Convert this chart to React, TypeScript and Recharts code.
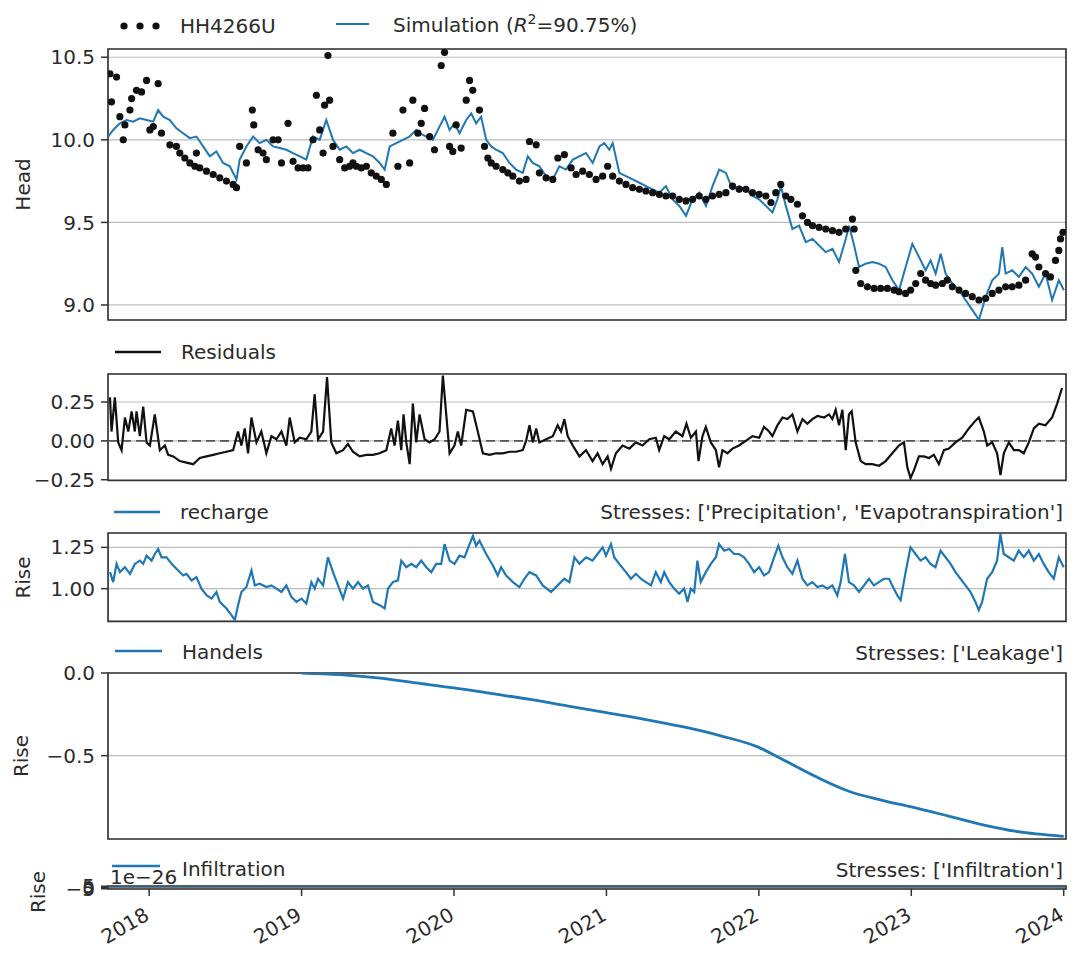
import React from "react";
import {
  ComposedChart,
  Line,
  Scatter,
  XAxis,
  YAxis,
  CartesianGrid,
  ReferenceArea,
  ReferenceLine,
} from "recharts";

const FONT = '"DejaVu Sans", sans-serif';
const BLUE = "#1f77b4";
const TEXT = "#2b2b2b";
const FRAME = "#333";

const X_DOMAIN: [number, number] = [2017.73, 2024.015];
const YEARS = [2018, 2019, 2020, 2021, 2022, 2023, 2024];

// observed head HH4266U [decimal year, head]
const observed = [
  [2017.743, 10.4], [2017.753, 10.23], [2017.786, 10.38], [2017.808, 10.14], [2017.83, 10.0],
  [2017.841, 10.09], [2017.874, 10.18], [2017.885, 10.25], [2017.917, 10.3], [2017.95, 10.29],
  [2017.983, 10.36], [2018.005, 10.06], [2018.027, 10.08], [2018.059, 10.34], [2018.081, 10.04],
  [2018.136, 9.97], [2018.179, 9.96], [2018.201, 9.92], [2018.234, 9.89], [2018.267, 9.86],
  [2018.3, 9.84], [2018.31, 9.92], [2018.332, 9.83], [2018.376, 9.81], [2018.42, 9.79],
  [2018.463, 9.77], [2018.507, 9.75], [2018.551, 9.73], [2018.573, 9.71], [2018.594, 9.96],
  [2018.638, 9.86], [2018.677, 10.18], [2018.686, 10.09], [2018.715, 9.94], [2018.747, 9.92],
  [2018.769, 9.88], [2018.813, 10.0], [2018.846, 10.0], [2018.868, 9.86], [2018.911, 10.1],
  [2018.944, 9.87], [2018.977, 9.83], [2019.01, 9.83], [2019.042, 9.83], [2019.075, 10.0],
  [2019.097, 10.27], [2019.119, 10.06], [2019.141, 9.92], [2019.151, 10.21], [2019.173, 10.51],
  [2019.184, 10.24], [2019.206, 9.96], [2019.25, 9.88], [2019.283, 9.83], [2019.315, 9.84],
  [2019.337, 9.86], [2019.359, 9.84], [2019.392, 9.83], [2019.425, 9.84], [2019.457, 9.8],
  [2019.49, 9.78], [2019.523, 9.76], [2019.556, 9.73], [2019.599, 10.04], [2019.632, 9.84],
  [2019.665, 10.18], [2019.709, 9.86], [2019.73, 10.24], [2019.763, 10.04], [2019.785, 10.1],
  [2019.807, 10.19], [2019.84, 10.02], [2019.872, 9.94], [2019.916, 10.45], [2019.938, 10.53],
  [2019.971, 9.96], [2019.992, 9.93], [2020.014, 10.09], [2020.047, 9.95], [2020.08, 10.24],
  [2020.102, 10.36], [2020.123, 10.3], [2020.167, 10.18], [2020.2, 9.96], [2020.222, 9.89],
  [2020.244, 9.86], [2020.276, 9.84], [2020.32, 9.82], [2020.353, 9.8], [2020.386, 9.78],
  [2020.429, 9.75], [2020.473, 9.76], [2020.495, 9.99], [2020.539, 9.97], [2020.56, 9.8],
  [2020.604, 9.77], [2020.648, 9.76], [2020.681, 9.89], [2020.724, 9.91], [2020.768, 9.83],
  [2020.801, 9.79], [2020.844, 9.81], [2020.888, 9.79], [2020.932, 9.76], [2020.975, 9.78],
  [2021.008, 9.84], [2021.041, 9.78], [2021.085, 9.75], [2021.128, 9.73], [2021.172, 9.71],
  [2021.216, 9.7], [2021.259, 9.69], [2021.303, 9.68], [2021.347, 9.67], [2021.39, 9.66],
  [2021.434, 9.66], [2021.478, 9.64], [2021.522, 9.63], [2021.565, 9.64], [2021.609, 9.66],
  [2021.653, 9.64], [2021.696, 9.66], [2021.74, 9.67], [2021.784, 9.68], [2021.827, 9.72],
  [2021.871, 9.7], [2021.915, 9.7], [2021.958, 9.68], [2022.002, 9.67], [2022.046, 9.66],
  [2022.079, 9.62], [2022.111, 9.68], [2022.144, 9.73], [2022.177, 9.66], [2022.21, 9.64],
  [2022.253, 9.61], [2022.286, 9.54], [2022.319, 9.5], [2022.352, 9.48], [2022.395, 9.47],
  [2022.439, 9.46], [2022.483, 9.45], [2022.526, 9.44], [2022.57, 9.46], [2022.614, 9.52],
  [2022.625, 9.46], [2022.636, 9.21], [2022.668, 9.13], [2022.712, 9.11], [2022.756, 9.1],
  [2022.799, 9.1], [2022.843, 9.1], [2022.887, 9.09], [2022.92, 9.08], [2022.963, 9.07],
  [2022.996, 9.09], [2023.029, 9.13], [2023.062, 9.19], [2023.094, 9.15], [2023.127, 9.13],
  [2023.16, 9.12], [2023.204, 9.13], [2023.236, 9.15], [2023.269, 9.11], [2023.313, 9.09],
  [2023.356, 9.07], [2023.4, 9.05], [2023.444, 9.03], [2023.488, 9.04], [2023.531, 9.07],
  [2023.575, 9.09], [2023.619, 9.11], [2023.662, 9.11], [2023.706, 9.12], [2023.75, 9.15],
  [2023.793, 9.31], [2023.815, 9.29], [2023.837, 9.23], [2023.881, 9.19], [2023.913, 9.17],
  [2023.946, 9.27], [2023.968, 9.33], [2023.979, 9.4], [2023.995, 9.44],
];

// simulated head
const simulation = [
  [2017.732, 10.02], [2017.764, 10.06], [2017.808, 10.1], [2017.852, 10.12], [2017.895, 10.11],
  [2017.939, 10.13], [2017.983, 10.12], [2018.027, 10.11], [2018.059, 10.18], [2018.092, 10.14],
  [2018.136, 10.12], [2018.179, 10.07], [2018.223, 10.04], [2018.267, 10.01], [2018.31, 10.02],
  [2018.354, 9.96], [2018.398, 9.9], [2018.441, 9.93], [2018.485, 9.86], [2018.529, 9.84],
  [2018.573, 9.76], [2018.594, 9.88], [2018.638, 9.96], [2018.682, 10.02], [2018.725, 9.98],
  [2018.769, 10.0], [2018.813, 9.96], [2018.857, 9.95], [2018.9, 9.94], [2018.944, 9.92],
  [2018.988, 9.9], [2019.031, 9.88], [2019.075, 10.02], [2019.119, 10.0], [2019.162, 10.12],
  [2019.206, 10.0], [2019.25, 9.94], [2019.294, 9.96], [2019.337, 9.92], [2019.381, 9.94],
  [2019.425, 9.92], [2019.468, 9.9], [2019.512, 9.86], [2019.545, 9.82], [2019.578, 9.96],
  [2019.621, 9.98], [2019.665, 10.0], [2019.709, 10.02], [2019.752, 10.06], [2019.774, 10.04],
  [2019.818, 10.02], [2019.861, 10.0], [2019.905, 10.08], [2019.938, 10.14], [2019.971, 10.06],
  [2020.003, 10.1], [2020.036, 10.04], [2020.08, 10.12], [2020.113, 10.16], [2020.145, 10.1],
  [2020.178, 10.14], [2020.211, 10.0], [2020.244, 9.96], [2020.276, 9.94], [2020.32, 9.92],
  [2020.364, 9.86], [2020.407, 9.82], [2020.451, 9.8], [2020.484, 9.9], [2020.517, 9.86],
  [2020.56, 9.84], [2020.604, 9.78], [2020.648, 9.76], [2020.691, 9.84], [2020.735, 9.82],
  [2020.779, 9.88], [2020.822, 9.9], [2020.866, 9.92], [2020.91, 9.86], [2020.954, 9.96],
  [2020.986, 9.98], [2021.019, 9.94], [2021.041, 9.98], [2021.085, 9.8], [2021.128, 9.78],
  [2021.172, 9.76], [2021.216, 9.74], [2021.259, 9.72], [2021.303, 9.7], [2021.347, 9.68],
  [2021.39, 9.72], [2021.434, 9.64], [2021.478, 9.6], [2021.522, 9.54], [2021.565, 9.64],
  [2021.609, 9.68], [2021.653, 9.6], [2021.696, 9.72], [2021.74, 9.82], [2021.784, 9.8],
  [2021.827, 9.7], [2021.871, 9.72], [2021.915, 9.7], [2021.958, 9.66], [2022.002, 9.64],
  [2022.046, 9.6], [2022.089, 9.56], [2022.122, 9.64], [2022.144, 9.72], [2022.177, 9.6],
  [2022.22, 9.46], [2022.264, 9.48], [2022.308, 9.38], [2022.352, 9.4], [2022.395, 9.36],
  [2022.439, 9.32], [2022.483, 9.34], [2022.526, 9.26], [2022.57, 9.4], [2022.592, 9.48],
  [2022.625, 9.36], [2022.657, 9.23], [2022.701, 9.25], [2022.745, 9.26], [2022.788, 9.25],
  [2022.832, 9.23], [2022.876, 9.15], [2022.92, 9.09], [2022.963, 9.23], [2023.007, 9.37],
  [2023.051, 9.29], [2023.094, 9.21], [2023.127, 9.27], [2023.16, 9.19], [2023.193, 9.31],
  [2023.225, 9.19], [2023.269, 9.13], [2023.313, 9.09], [2023.356, 9.03], [2023.4, 8.97],
  [2023.444, 8.91], [2023.488, 9.05], [2023.531, 9.15], [2023.575, 9.19], [2023.597, 9.35],
  [2023.619, 9.19], [2023.662, 9.21], [2023.706, 9.17], [2023.75, 9.23], [2023.793, 9.19],
  [2023.837, 9.11], [2023.881, 9.19], [2023.924, 9.03], [2023.968, 9.15], [2024.001, 9.09],
];

const residuals = [
  [2017.743, 0.28], [2017.753, 0.06], [2017.775, 0.28], [2017.797, -0.01], [2017.819, -0.06],
  [2017.841, 0.15], [2017.863, 0.06], [2017.885, 0.19], [2017.906, 0.06], [2017.917, 0.19],
  [2017.939, 0.03], [2017.961, 0.22], [2017.983, -0.01], [2018.005, -0.03], [2018.037, 0.17],
  [2018.07, -0.06], [2018.103, -0.03], [2018.125, -0.09], [2018.158, -0.1], [2018.201, -0.13],
  [2018.245, -0.14], [2018.289, -0.15], [2018.332, -0.11], [2018.376, -0.1], [2018.42, -0.09],
  [2018.463, -0.08], [2018.507, -0.07], [2018.551, -0.06], [2018.583, 0.06], [2018.605, -0.03],
  [2018.627, 0.08], [2018.649, -0.08], [2018.671, 0.15], [2018.704, -0.01], [2018.736, 0.06],
  [2018.769, -0.08], [2018.802, 0.03], [2018.835, 0.01], [2018.868, 0.06], [2018.9, -0.03],
  [2018.922, 0.15], [2018.955, -0.01], [2018.988, 0.02], [2019.031, 0.01], [2019.064, 0.06],
  [2019.086, 0.3], [2019.108, 0.01], [2019.141, 0.06], [2019.167, 0.41], [2019.195, -0.01],
  [2019.228, -0.08], [2019.272, -0.06], [2019.304, -0.02], [2019.337, -0.07], [2019.381, -0.1],
  [2019.425, -0.09], [2019.468, -0.09], [2019.512, -0.08], [2019.556, -0.06], [2019.588, 0.08],
  [2019.61, -0.03], [2019.632, 0.13], [2019.654, -0.06], [2019.669, 0.17], [2019.687, -0.01],
  [2019.709, -0.15], [2019.73, 0.24], [2019.752, -0.01], [2019.774, 0.17], [2019.807, 0.01],
  [2019.84, -0.01], [2019.873, 0.01], [2019.905, 0.06], [2019.927, 0.42], [2019.949, 0.17],
  [2019.971, -0.08], [2020.003, -0.03], [2020.025, 0.06], [2020.047, -0.03], [2020.08, 0.2],
  [2020.124, 0.19], [2020.156, 0.06], [2020.189, -0.08], [2020.233, -0.09], [2020.276, -0.08],
  [2020.32, -0.08], [2020.364, -0.07], [2020.408, -0.07], [2020.451, -0.06], [2020.473, 0.0],
  [2020.495, 0.1], [2020.517, -0.01], [2020.539, 0.08], [2020.56, -0.01], [2020.604, 0.01],
  [2020.648, 0.03], [2020.68, 0.1], [2020.702, 0.06], [2020.724, 0.14], [2020.746, 0.03],
  [2020.779, -0.03], [2020.823, -0.1], [2020.866, -0.06], [2020.909, -0.13], [2020.942, -0.08],
  [2020.975, -0.15], [2021.008, -0.1], [2021.03, -0.18], [2021.062, -0.08], [2021.106, -0.03],
  [2021.15, -0.05], [2021.193, -0.01], [2021.237, -0.03], [2021.281, 0.01], [2021.324, 0.02],
  [2021.346, -0.06], [2021.379, 0.03], [2021.412, 0.01], [2021.455, 0.06], [2021.499, 0.03],
  [2021.525, 0.11], [2021.554, 0.02], [2021.587, 0.06], [2021.604, -0.13], [2021.63, 0.03],
  [2021.652, 0.09], [2021.685, -0.01], [2021.718, -0.06], [2021.739, -0.17], [2021.761, -0.06],
  [2021.794, -0.08], [2021.827, -0.05], [2021.87, -0.03], [2021.914, 0.0], [2021.958, 0.03],
  [2022.002, 0.02], [2022.034, 0.09], [2022.067, 0.06], [2022.089, 0.03], [2022.122, 0.1],
  [2022.155, 0.15], [2022.187, 0.14], [2022.22, 0.17], [2022.253, 0.06], [2022.286, 0.14],
  [2022.318, 0.11], [2022.351, 0.14], [2022.384, 0.16], [2022.428, 0.15], [2022.46, 0.17],
  [2022.482, 0.14], [2022.504, 0.2], [2022.526, 0.1], [2022.548, 0.2], [2022.57, -0.06],
  [2022.591, 0.17], [2022.609, 0.19], [2022.635, -0.01], [2022.668, -0.13], [2022.701, -0.15],
  [2022.744, -0.15], [2022.788, -0.16], [2022.832, -0.13], [2022.875, -0.08], [2022.919, -0.03],
  [2022.952, -0.01], [2022.974, -0.17], [2022.995, -0.24], [2023.017, -0.19], [2023.05, -0.1],
  [2023.083, -0.1], [2023.116, -0.11], [2023.148, -0.09], [2023.181, -0.15], [2023.214, -0.06],
  [2023.247, -0.05], [2023.29, -0.01], [2023.334, 0.02], [2023.378, 0.08], [2023.421, 0.13],
  [2023.443, 0.15], [2023.476, 0.06], [2023.498, -0.03], [2023.531, -0.01], [2023.563, -0.08],
  [2023.585, -0.22], [2023.607, -0.08], [2023.64, -0.01], [2023.673, -0.06], [2023.705, -0.06],
  [2023.738, -0.08], [2023.771, -0.01], [2023.804, 0.08], [2023.837, 0.11], [2023.88, 0.1],
  [2023.924, 0.15], [2023.957, 0.24], [2023.989, 0.34],
];

const recharge = [
  [2017.743, 1.1], [2017.764, 1.04], [2017.786, 1.15], [2017.808, 1.1], [2017.841, 1.13],
  [2017.874, 1.09], [2017.906, 1.15], [2017.939, 1.17], [2017.961, 1.15], [2017.983, 1.2],
  [2018.016, 1.17], [2018.037, 1.21], [2018.059, 1.24], [2018.081, 1.19], [2018.114, 1.19],
  [2018.147, 1.15], [2018.19, 1.11], [2018.223, 1.08], [2018.245, 1.09], [2018.278, 1.05],
  [2018.31, 1.07], [2018.343, 1.0], [2018.376, 0.96], [2018.409, 0.94], [2018.441, 0.98],
  [2018.463, 0.92], [2018.507, 0.88], [2018.54, 0.84], [2018.562, 0.81], [2018.583, 0.9],
  [2018.605, 0.98], [2018.638, 1.01], [2018.671, 1.11], [2018.693, 1.02], [2018.725, 1.03],
  [2018.769, 1.01], [2018.802, 1.02], [2018.835, 1.0], [2018.868, 0.98], [2018.9, 1.02],
  [2018.933, 0.95], [2018.966, 0.92], [2018.999, 0.94], [2019.031, 0.91], [2019.064, 1.04],
  [2019.086, 1.0], [2019.108, 1.06], [2019.141, 1.02], [2019.173, 1.19], [2019.206, 1.1],
  [2019.239, 1.02], [2019.272, 0.94], [2019.304, 1.04], [2019.337, 1.0], [2019.37, 1.04],
  [2019.403, 1.0], [2019.435, 1.02], [2019.468, 0.92], [2019.512, 0.9], [2019.545, 0.88],
  [2019.567, 1.0], [2019.599, 1.04], [2019.632, 1.05], [2019.654, 1.17], [2019.687, 1.13],
  [2019.72, 1.15], [2019.752, 1.13], [2019.785, 1.17], [2019.818, 1.13], [2019.851, 1.1],
  [2019.883, 1.15], [2019.916, 1.15], [2019.938, 1.27], [2019.971, 1.17], [2020.003, 1.15],
  [2020.036, 1.2], [2020.069, 1.19], [2020.102, 1.27], [2020.124, 1.32], [2020.145, 1.26],
  [2020.167, 1.29], [2020.211, 1.21], [2020.255, 1.14], [2020.287, 1.08], [2020.309, 1.13],
  [2020.342, 1.08], [2020.386, 1.04], [2020.429, 1.01], [2020.462, 1.06], [2020.495, 1.1],
  [2020.539, 1.08], [2020.582, 1.02], [2020.637, 0.98], [2020.68, 1.02], [2020.724, 1.06],
  [2020.757, 1.04], [2020.79, 1.19], [2020.823, 1.15], [2020.866, 1.19], [2020.909, 1.17],
  [2020.942, 1.21], [2020.975, 1.25], [2020.997, 1.2], [2021.03, 1.27], [2021.051, 1.19],
  [2021.084, 1.15], [2021.128, 1.1], [2021.161, 1.06], [2021.193, 1.09], [2021.226, 1.06],
  [2021.259, 1.04], [2021.292, 1.02], [2021.324, 1.1], [2021.357, 1.04], [2021.379, 1.1],
  [2021.412, 1.04], [2021.445, 1.0], [2021.477, 0.97], [2021.51, 1.0], [2021.532, 0.92],
  [2021.554, 1.0], [2021.576, 0.98], [2021.597, 1.17], [2021.619, 1.04], [2021.652, 1.1],
  [2021.685, 1.15], [2021.718, 1.19], [2021.739, 1.27], [2021.772, 1.23], [2021.805, 1.24],
  [2021.838, 1.21], [2021.87, 1.21], [2021.903, 1.19], [2021.936, 1.15], [2021.969, 1.1],
  [2022.002, 1.13], [2022.034, 1.08], [2022.067, 1.1], [2022.1, 1.19], [2022.128, 1.26],
  [2022.155, 1.19], [2022.187, 1.13], [2022.22, 1.09], [2022.253, 1.17], [2022.286, 1.06],
  [2022.318, 1.02], [2022.351, 1.04], [2022.384, 1.01], [2022.417, 1.02], [2022.449, 1.0],
  [2022.482, 1.02], [2022.515, 0.96], [2022.537, 1.04], [2022.565, 1.21], [2022.591, 1.04],
  [2022.624, 1.02], [2022.657, 0.98], [2022.69, 1.02], [2022.722, 1.06], [2022.755, 1.02],
  [2022.788, 1.04], [2022.821, 1.06], [2022.854, 1.06], [2022.886, 1.0], [2022.908, 0.96],
  [2022.93, 0.93], [2022.963, 1.1], [2022.995, 1.25], [2023.028, 1.21], [2023.061, 1.17],
  [2023.094, 1.19], [2023.126, 1.15], [2023.159, 1.13], [2023.192, 1.23], [2023.225, 1.19],
  [2023.258, 1.15], [2023.29, 1.1], [2023.323, 1.06], [2023.356, 1.02], [2023.389, 0.98],
  [2023.421, 0.92], [2023.443, 0.87], [2023.465, 0.92], [2023.498, 1.06], [2023.531, 1.1],
  [2023.563, 1.17], [2023.585, 1.33], [2023.607, 1.21], [2023.64, 1.19], [2023.673, 1.17],
  [2023.705, 1.23], [2023.738, 1.19], [2023.771, 1.23], [2023.804, 1.17], [2023.837, 1.21],
  [2023.869, 1.15], [2023.902, 1.1], [2023.935, 1.06], [2023.968, 1.19], [2024.0, 1.13],
];

const handels = [
  [2019.0, 0.0], [2019.25, -0.01], [2019.5, -0.03], [2019.75, -0.06], [2020.0, -0.09],
  [2020.25, -0.125], [2020.5, -0.16], [2020.75, -0.2], [2021.0, -0.24], [2021.25, -0.28],
  [2021.5, -0.325], [2021.75, -0.38], [2022.0, -0.45], [2022.15, -0.52], [2022.37, -0.625],
  [2022.59, -0.715], [2022.81, -0.77], [2023.0, -0.81], [2023.25, -0.867], [2023.47, -0.918],
  [2023.69, -0.958], [2024.0, -0.988],
];

const infiltration = [
  [2017.73, 0], [2024.015, 0],
];

const toPts = (a: number[][]) => a.map(([t, v]) => ({ t, v }));

const minusFmt = (d: number) => (v: number) => v.toFixed(d).replace("-", "\u2212");

const YearTick = (props: any) => {
  const { x, y, payload } = props;
  const ax = x - 6;
  const ay = y + 8;
  return (
    <text
      x={ax}
      y={ay}
      dy="0.75em"
      transform={`rotate(-30 ${ax} ${ay})`}
      textAnchor="end"
      fontSize={20}
      fill={TEXT}
      fontFamily={FONT}
    >
      {payload.value}
    </text>
  );
};

type PanelProps = {
  top: number;
  plotH: number;
  domain: [number, number];
  ticks: number[];
  fmt: (v: number) => string;
  xLabels?: boolean;
  children?: React.ReactNode;
};

function Panel({ top, plotH, domain, ticks, fmt, xLabels = false, children }: PanelProps) {
  const m = 16;
  const axisH = xLabels ? 64 : 10;
  return (
    <div style={{ position: "absolute", left: 0, top: top - m }}>
      <ComposedChart
        width={1074}
        height={plotH + m + axisH}
        margin={{ top: m, right: 8, bottom: 0, left: 8 }}
      >
        <CartesianGrid stroke="#bdbdbd" strokeWidth={1.2} />
        <XAxis
          type="number"
          dataKey="t"
          domain={X_DOMAIN}
          ticks={YEARS}
          interval={0}
          allowDataOverflow
          height={axisH}
          axisLine={false}
          tickSize={7}
          tickLine={{ stroke: FRAME, strokeWidth: 1.5 }}
          tick={xLabels ? YearTick : false}
        />
        <YAxis
          type="number"
          dataKey="v"
          domain={domain}
          ticks={ticks}
          interval={0}
          allowDataOverflow
          width={100}
          axisLine={false}
          tickSize={7}
          tickMargin={6}
          tickFormatter={fmt}
          tickLine={{ stroke: FRAME, strokeWidth: 1.5 }}
          tick={{ fontSize: 20, fill: TEXT, fontFamily: FONT }}
        />
        {children}
        <ReferenceArea
          x1={X_DOMAIN[0]}
          x2={X_DOMAIN[1]}
          y1={domain[0]}
          y2={domain[1]}
          fill="none"
          fillOpacity={0}
          stroke={FRAME}
          strokeWidth={1.6}
          ifOverflow="visible"
        />
      </ComposedChart>
    </div>
  );
}

const Dot = (p: any) => <circle cx={p.cx} cy={p.cy} r={3.6} fill="#111" />;

export default function App() {
  return (
    <div
      style={{
        position: "absolute",
        left: 0,
        top: 0,
        width: 1074,
        height: 954,
        overflow: "hidden",
        background: "#fff",
        fontFamily: FONT,
      }}
    >
      <Panel top={49} plotH={271} domain={[8.909, 10.55]} ticks={[9, 9.5, 10, 10.5]} fmt={minusFmt(1)}>
        <Scatter data={toPts(observed)} dataKey="v" shape={Dot} isAnimationActive={false} />
        <Line
          data={toPts(simulation)}
          dataKey="v"
          type="linear"
          stroke={BLUE}
          strokeWidth={2}
          dot={false}
          isAnimationActive={false}
        />
      </Panel>

      <Panel top={374} plotH={106.5} domain={[-0.255, 0.43]} ticks={[-0.25, 0, 0.25]} fmt={minusFmt(2)}>
        <ReferenceLine y={0} stroke="#555" strokeWidth={1.6} strokeDasharray="9 5" />
        <Line
          data={toPts(residuals)}
          dataKey="v"
          type="linear"
          stroke="#111"
          strokeWidth={2.2}
          dot={false}
          isAnimationActive={false}
        />
      </Panel>

      <Panel top={533.3} plotH={88.4} domain={[0.802, 1.337]} ticks={[1.0, 1.25]} fmt={minusFmt(2)}>
        <Line
          data={toPts(recharge)}
          dataKey="v"
          type="linear"
          stroke={BLUE}
          strokeWidth={2.2}
          dot={false}
          isAnimationActive={false}
        />
      </Panel>

      <Panel top={673.3} plotH={166} domain={[-1.004, 0]} ticks={[-0.5, 0]} fmt={minusFmt(1)}>
        <Line
          data={toPts(handels)}
          dataKey="v"
          type="monotone"
          stroke={BLUE}
          strokeWidth={2.8}
          dot={false}
          isAnimationActive={false}
        />
      </Panel>

      <Panel
        top={886}
        plotH={3}
        domain={[-6, 6]}
        ticks={[-5, 0, 5]}
        fmt={(v) => (v < 0 ? "\u22125" : v === 0 ? "0" : "5")}
        xLabels
      >
        <Line
          data={toPts(infiltration)}
          dataKey="v"
          stroke={BLUE}
          strokeWidth={0.8}
          dot={false}
          isAnimationActive={false}
        />
      </Panel>

      <svg
        width={1074}
        height={954}
        style={{ position: "absolute", left: 0, top: 0, pointerEvents: "none" }}
        fontFamily={FONT}
        fontSize={20}
        fill={TEXT}
      >
        {/* head legend */}
        {[124, 140, 156].map((cx) => (
          <circle key={cx} cx={cx} cy={26} r={3.6} fill="#111" />
        ))}
        <text x={180} y={33}>HH4266U</text>
        <line x1={336} x2={369} y1={24} y2={24} stroke={BLUE} strokeWidth={2.2} />
        <text x={393} y={32}>
          Simulation (<tspan fontStyle="italic">R</tspan>
          <tspan dy={-8} fontSize={14}>2</tspan>
          <tspan dy={8}>=90.75%)</tspan>
        </text>

        {/* residuals legend */}
        <line x1={115} x2={161} y1={352} y2={352} stroke="#111" strokeWidth={2.4} />
        <text x={181} y={359}>Residuals</text>

        {/* recharge legend */}
        <line x1={114} x2={160} y1={512} y2={512} stroke={BLUE} strokeWidth={2.4} />
        <text x={180} y={519}>recharge</text>
        <text x={1063} y={519} textAnchor="end">
          Stresses: ['Precipitation', 'Evapotranspiration']
        </text>

        {/* handels legend */}
        <line x1={115} x2={162} y1={651} y2={651} stroke={BLUE} strokeWidth={2.4} />
        <text x={182} y={659}>Handels</text>
        <text x={1063} y={660} textAnchor="end">Stresses: ['Leakage']</text>

        {/* infiltration legend */}
        <line x1={112} x2={160} y1={866} y2={866} stroke={BLUE} strokeWidth={2.4} />
        <text x={110} y={884}>1e{"\u2212"}26</text>
        <text x={182} y={876}>Infiltration</text>
        <text x={1063} y={877} textAnchor="end">Stresses: ['Infiltration']</text>

        {/* y labels */}
        <text x={30} y={184.5} transform="rotate(-90 30 184.5)" textAnchor="middle">Head</text>
        <text x={30} y={577.5} transform="rotate(-90 30 577.5)" textAnchor="middle">Rise</text>
        <text x={28} y={756} transform="rotate(-90 28 756)" textAnchor="middle">Rise</text>
        <text x={45} y={892} transform="rotate(-90 45 892)" textAnchor="middle">Rise</text>
      </svg>
    </div>
  );
}
